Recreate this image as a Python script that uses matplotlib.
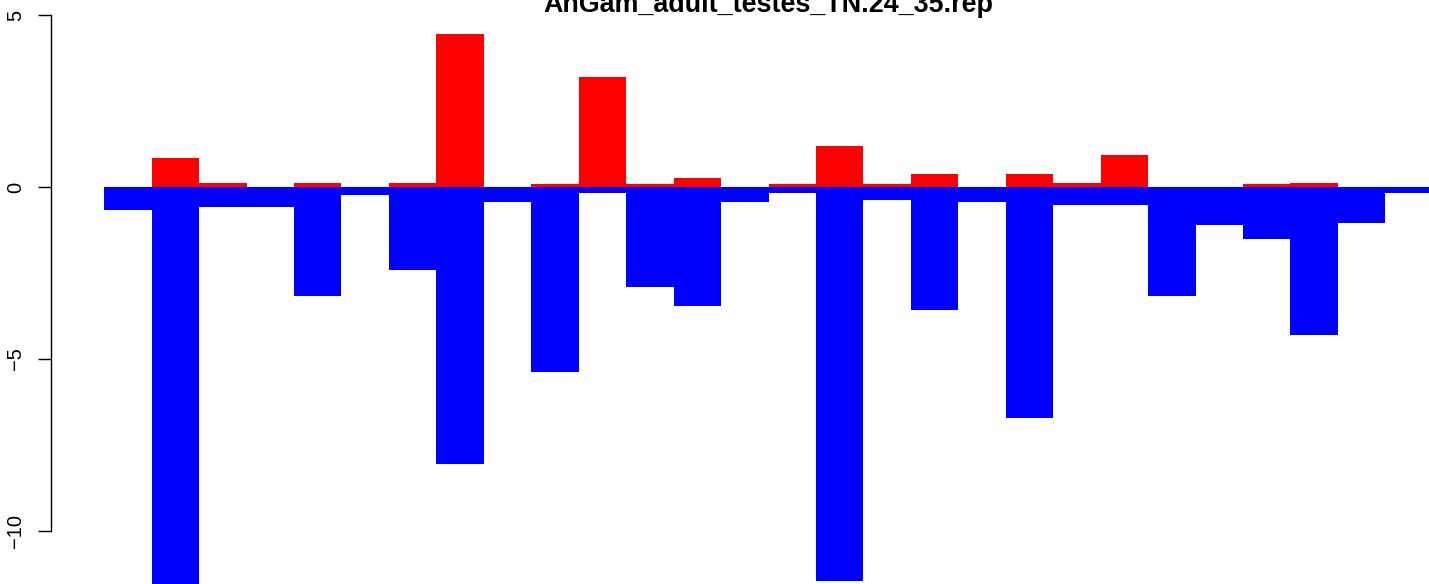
import matplotlib
matplotlib.use("Agg")
import matplotlib.pyplot as plt
import numpy as np

title = "AnGam_adult_testes_TN.24_35.rep"
up_values = [0, 0.85, 0.13, 0, 0.13, 0, 0.13, 4.45, 0, 0.08, 3.2, 0.08, 0.27, 0,
             0.08, 1.2, 0.08, 0.39, 0, 0.39, 0.13, 0.94, 0, 0, 0.08, 0.13, 0, 0]
down_values = [-0.68, -11.6, -0.58, -0.58, -3.17, -0.23, -2.42, -8.06, -0.44, -5.38,
               -0.17, -2.9, -3.46, -0.44, -0.17, -11.46, -0.38, -3.58, -0.44, -6.72,
               -0.52, -0.52, -3.17, -1.1, -1.51, -4.3, -1.05, -0.17]
y_ticks = [-10, -5, 0, 5]

plt.rcParams['font.family'] = ['Liberation Sans', 'DejaVu Sans']

W, H = 1429, 584
fig = plt.figure(figsize=(W / 100, H / 100), dpi=100)
left_px, width_px = 51, 1435
ax = fig.add_axes([left_px / W, 0, width_px / W, 1])

n = len(up_values)
x = np.arange(n)
ax.plot([0, n], [0, 0], color='#BEBEBE', lw=1.0, zorder=1, solid_capstyle='butt')
ax.bar(x, up_values, width=1.0, align='edge', color='#FF0000', linewidth=0,
       antialiased=False, zorder=2)
ax.bar(x, down_values, width=1.0, align='edge', color='#0000FF', linewidth=0,
       antialiased=False, zorder=2)

ax.set_xlim(-0.04 * n, n * 1.04)
ax.set_ylim(-11.55, 5.44)

for s in ['top', 'right', 'bottom']:
    ax.spines[s].set_visible(False)
ax.spines['left'].set_bounds(-10, 5)
ax.spines['left'].set_linewidth(1.0)
ax.set_xticks([])
ax.set_yticks(y_ticks)
ax.set_yticklabels([str(t).replace('-', '\u2212') for t in y_ticks],
                   rotation=90, va='center', fontsize=14.5)
ax.tick_params(axis='y', length=9.4, width=1.0, pad=9)
ax.patch.set_visible(False)

fig.text(768.5 / W, 1 - 12 / H, title, ha='center', va='baseline',
         fontsize=19.4, fontweight='bold')

fig.savefig('out.png', dpi=100)
